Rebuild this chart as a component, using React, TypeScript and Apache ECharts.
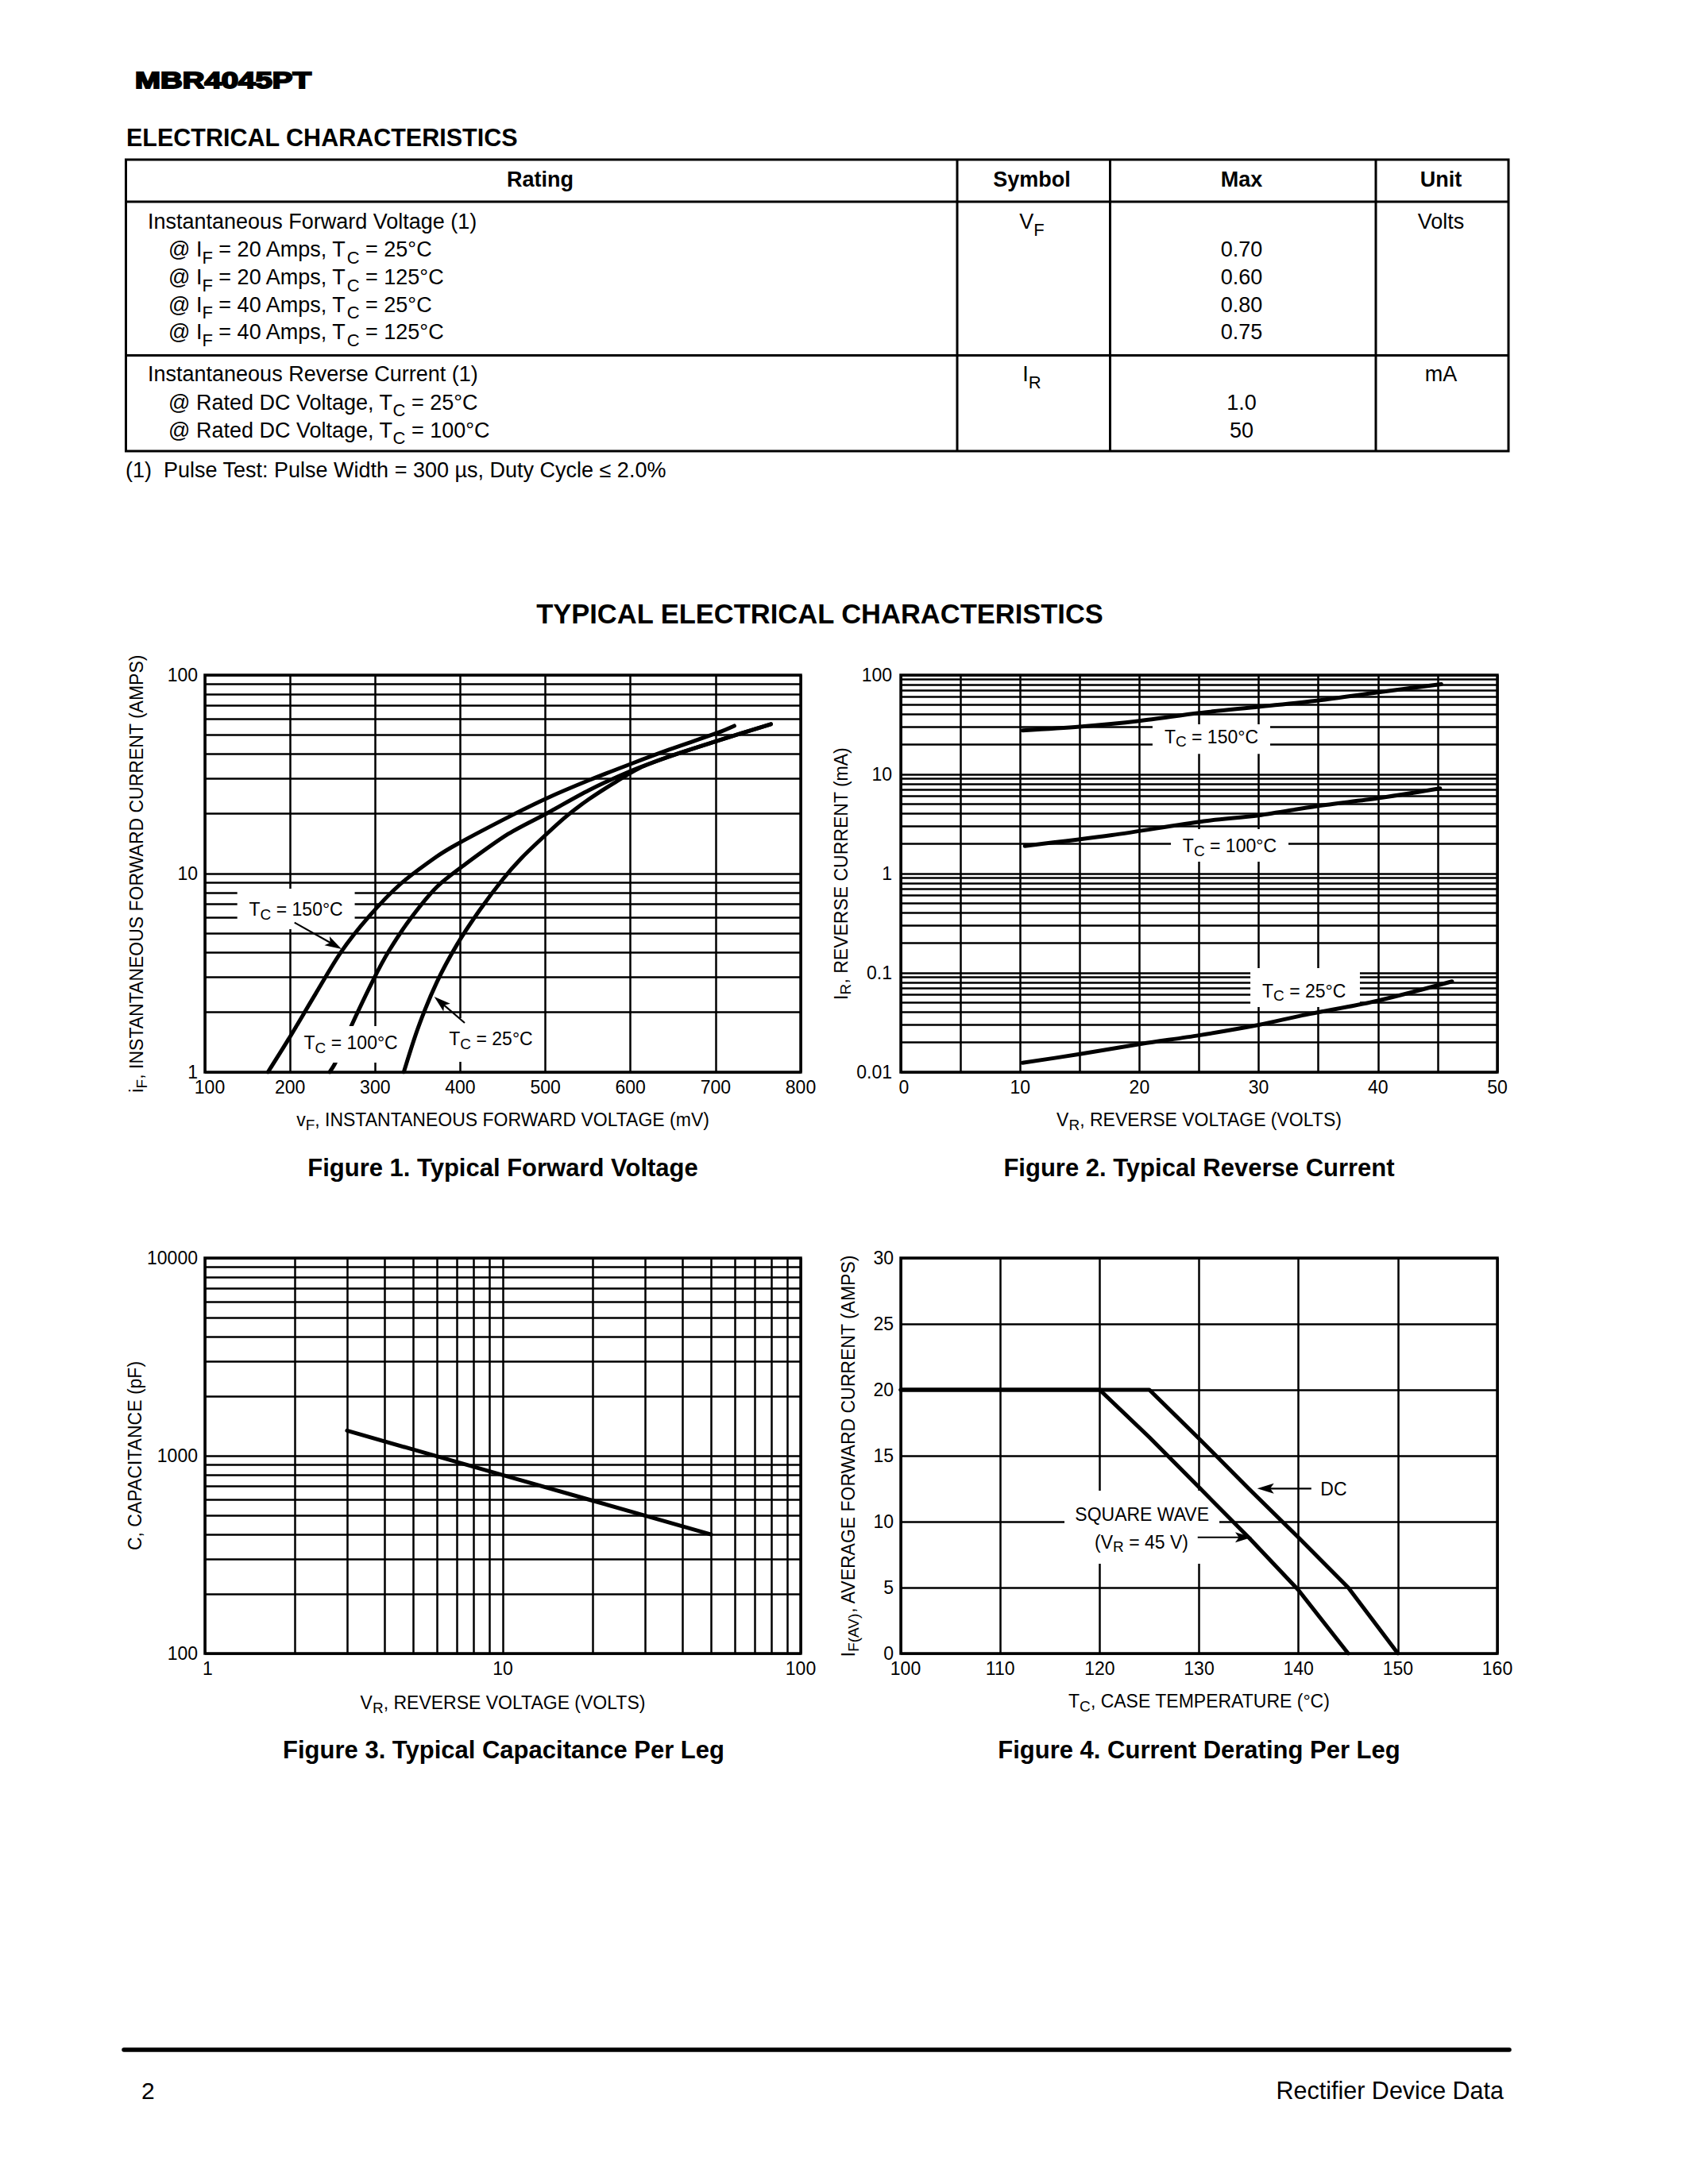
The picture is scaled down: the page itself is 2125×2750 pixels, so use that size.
import React, { useEffect, useRef } from "react";
import * as echarts from "echarts";

const NARROW = "'Liberation Sans Narrow', 'Arial Narrow', 'Liberation Sans', Arial, sans-serif";
const SANS = "'Liberation Sans', Arial, Helvetica, sans-serif";
const BLACK = "#000";
const CH = 23; // chart text size
const CHS = 19; // chart subscript size
const CHP = 12; // subscript drop (padding top, text moves by half)

// ---------------- Table data ----------------
const VF_IF_AMPS = ["20", "20", "40", "40"];
const VF_TC = ["25", "125", "25", "125"];
const VF_MAX = ["0.70", "0.60", "0.80", "0.75"];
const IR_TC = ["25", "100"];
const IR_MAX = ["1.0", "50"];

// ---------------- Figure 1: forward voltage (mV) vs current (A) ----------------
const F1_V_150 = [174, 198, 230, 260, 292, 329, 372, 397, 461, 502, 551, 602, 646, 703, 722];
const F1_I_150 = [1.0, 1.46, 2.48, 4.03, 6.03, 8.81, 12.16, 14.13, 19.7, 24.0, 29.5, 35.9, 42.2, 51.3, 55.5];
const F1_V_100 = [246.5, 253, 272, 298, 316.5, 341.5, 372.5, 403.6, 456.5, 501.6, 551.2, 602, 645.7, 703.4, 765];
const F1_I_100 = [1.0, 1.11, 1.71, 2.93, 4.1, 5.93, 8.57, 10.96, 15.85, 20.1, 26.3, 33.1, 38.9, 46.8, 56.6];
const F1_V_25 = [333.6, 350.8, 372.5, 395.9, 422.3, 450.3, 472.1, 501.6, 526, 551.2, 580, 610, 645.7, 703.4, 765];
const F1_I_25 = [1.0, 1.69, 2.84, 4.37, 6.5, 9.4, 12.0, 15.85, 19.65, 23.7, 28.5, 33.9, 38.9, 46.8, 56.6];

// ---------------- Figure 2: reverse voltage (V) vs reverse current (mA) ----------------
const F2_V_150 = [10.2, 15, 20, 25, 30, 35, 40, 45.3];
const F2_I_150 = [27.7, 30.2, 34.5, 41.5, 47.9, 55.5, 67, 81];
const F2_V_100 = [10.4, 17.7, 25.4, 30, 34.9, 40, 45.2];
const F2_I_100 = [1.9, 2.44, 3.37, 3.86, 4.79, 5.75, 7.2];
const F2_V_25 = [10.2, 15, 20.2, 25, 30, 33.7, 40, 46.2];
const F2_I_25 = [0.0124, 0.0152, 0.0193, 0.0235, 0.0299, 0.0374, 0.0525, 0.082];

// ---------------- Figure 3: capacitance ----------------
const F3_V = [3, 5, 10, 20, 30, 50];
const F3_C = [1340, 1075, 798, 593, 498, 400];

// ---------------- Figure 4: current derating ----------------
const F4_T_DC = [100, 125, 130, 135, 140, 145, 150];
const F4_I_DC = [20, 20, 16.3, 12.5, 8.8, 5.0, 0];
const F4_T_SQ = [100, 120, 125, 130, 135, 140, 145];
const F4_I_SQ = [20, 20, 16.4, 12.6, 8.8, 4.8, 0];

// ---------------- Grid line values (log paper) ----------------
const LOG_MINOR_1_100 = [2, 3, 4, 5, 6, 7, 8, 9, 20, 30, 40, 50, 60, 70, 80, 90];
const LOG_MINOR_001_100 = [
  0.02, 0.03, 0.04, 0.05, 0.06, 0.07, 0.08, 0.09,
  0.2, 0.3, 0.4, 0.5, 0.6, 0.7, 0.8, 0.9,
  2, 3, 4, 5, 6, 7, 8, 9,
  20, 30, 40, 50, 60, 70, 80, 90,
];
const LOG_MINOR_100_10000 = [200, 300, 400, 500, 600, 700, 800, 900, 2000, 3000, 4000, 5000, 6000, 7000, 8000, 9000];

const nb = (s: string) => s.replace(/^ +| +$/g, (m) => "\u00a0".repeat(m.length));
const rich = (parts: [string, string][]) => parts.map(([k, t]) => `{${k}|${nb(t)}}`).join("");
const rn = (a: string, s: string, b: string) => rich([["n", a], ["s", s], ["n", b]]);

const NAME_RICH = {
  n: { fontFamily: NARROW, fontSize: CH, color: BLACK },
  s: { fontFamily: NARROW, fontSize: CHS, color: BLACK, padding: [CHP, 0, 0, 0] },
};
const ANN_RICH = {
  n: { fontFamily: NARROW, fontSize: CH, fill: BLACK },
  s: { fontFamily: NARROW, fontSize: CHS, fill: BLACK, padding: [CHP, 0, 0, 0] },
};
const TABLE_RICH = {
  t: { fontFamily: SANS, fontSize: 27, fill: BLACK },
  u: { fontFamily: SANS, fontSize: 22, fill: BLACK, padding: [20, 0, 0, 0] },
};

const fmtNum = (v: number) => String(Number(Number(v).toPrecision(6)));
// the first (min) x label sits a little right of its tick, as on the original sheet
const firstShift = (min: number, shift: number, skip?: (v: number) => boolean) => ({
  formatter: (v: number) => {
    if (skip && skip(v)) return "";
    const s = fmtNum(v);
    return Math.abs(v - min) < 1e-9 ? `{f|${s}}` : s;
  },
  rich: { f: { fontFamily: NARROW, fontSize: CH, color: BLACK, padding: [0, 0, 0, shift] } },
});

const splitLine = { show: true, lineStyle: { color: BLACK, width: 2.5, type: "solid" } };
const nameTextStyle = {
  fontFamily: NARROW, fontSize: CH, color: BLACK, align: "center", verticalAlign: "middle", rich: NAME_RICH,
};
const axisCommon = {
  nameLocation: "middle",
  nameTextStyle,
  axisLine: { show: false },
  axisTick: { show: false },
  splitLine,
  silent: true,
};
const xLabel = { fontFamily: NARROW, fontSize: CH, color: BLACK, margin: 7 };
const yLabel = { fontFamily: NARROW, fontSize: CH, color: BLACK, margin: 9 };

const zip = (xs: number[], ys: number[]) => xs.map((x, i) => [x, ys[i]]);

const gridLines = (xs: number[], ys: number[]) => ({
  silent: true,
  z: 1,
  symbol: ["none", "none"],
  label: { show: false },
  lineStyle: { color: BLACK, width: 2.5, type: "solid" },
  emphasis: { disabled: true },
  animation: false,
  data: [...xs.map((v) => ({ xAxis: v })), ...ys.map((v) => ({ yAxis: v }))],
});

const lineSeries = (name: string, g: number, xs: number[], ys: number[], extra: any = {}) => ({
  name,
  type: "line",
  xAxisIndex: g,
  yAxisIndex: g,
  data: zip(xs, ys),
  symbol: "none",
  showSymbol: false,
  lineStyle: { color: BLACK, width: 5, cap: "round", join: "round" },
  itemStyle: { color: BLACK },
  z: 3,
  silent: true,
  animation: false,
  ...extra,
});

function buildOption(): any {
  const grids = [
    { left: 258, top: 850, width: 750, height: 500 },
    { left: 1134, top: 850, width: 751, height: 500 },
    { left: 258, top: 1584, width: 750, height: 498 },
    { left: 1134, top: 1584, width: 751, height: 498 },
  ].map((g) => ({
    ...g,
    show: true,
    borderColor: BLACK,
    borderWidth: 3.5,
    backgroundColor: "transparent",
    containLabel: false,
    outerBoundsMode: "none",
  }));

  const xAxis = [
    {
      ...axisCommon, gridIndex: 0, type: "value", min: 100, max: 800, interval: 100,
      name: rn("v", "F", ", INSTANTANEOUS FORWARD VOLTAGE (mV)"), nameGap: 60,
      axisLabel: { ...xLabel, ...firstShift(100, 12) },
    },
    {
      ...axisCommon, gridIndex: 1, type: "value", min: 0, max: 50, interval: 5,
      name: rn("V", "R", ", REVERSE VOLTAGE (VOLTS)"), nameGap: 60,
      axisLabel: { ...xLabel, ...firstShift(0, 8, (v) => v % 10 !== 0) },
    },
    {
      ...axisCommon, gridIndex: 2, type: "log", logBase: 10, min: 1, max: 100,
      name: rn("V", "R", ", REVERSE VOLTAGE (VOLTS)"), nameGap: 62,
      axisLabel: { ...xLabel, ...firstShift(1, 7) },
    },
    {
      ...axisCommon, gridIndex: 3, type: "value", min: 100, max: 160, interval: 10,
      name: rn("T", "C", ", CASE TEMPERATURE (°C)"), nameGap: 60,
      axisLabel: { ...xLabel, ...firstShift(100, 12) },
    },
  ];

  const yAxis = [
    {
      ...axisCommon, gridIndex: 0, type: "log", logBase: 10, min: 1, max: 100, nameRotate: 90,
      name: rn("i", "F", ", INSTANTANEOUS FORWARD CURRENT (AMPS)"), nameGap: 86,
      axisLabel: { ...yLabel, formatter: fmtNum },
    },
    {
      ...axisCommon, gridIndex: 1, type: "log", logBase: 10, min: 0.01, max: 100, nameRotate: 90,
      name: rn("I", "R", ", REVERSE CURRENT (mA)"), nameGap: 69,
      axisLabel: { ...yLabel, margin: 11, formatter: fmtNum },
    },
    {
      ...axisCommon, gridIndex: 2, type: "log", logBase: 10, min: 100, max: 10000, nameRotate: 90,
      name: rich([["n", "C, CAPACITANCE (pF)"]]), nameGap: 86,
      axisLabel: { ...yLabel, formatter: fmtNum },
    },
    {
      ...axisCommon, gridIndex: 3, type: "value", min: 0, max: 30, interval: 5, nameRotate: 90,
      name: rn("I", "F(AV)", ", AVERAGE FORWARD CURRENT (AMPS)"), nameGap: 66,
      axisLabel: yLabel,
    },
  ];

  const smooth = { smooth: 0.3 };
  const series = [
    lineSeries("TC = 150°C", 0, F1_V_150, F1_I_150, { ...smooth, markLine: gridLines([], LOG_MINOR_1_100) }),
    lineSeries("TC = 100°C", 0, F1_V_100, F1_I_100, smooth),
    lineSeries("TC = 25°C", 0, F1_V_25, F1_I_25, smooth),
    lineSeries("TC = 150°C", 1, F2_V_150, F2_I_150, { ...smooth, markLine: gridLines([], LOG_MINOR_001_100) }),
    lineSeries("TC = 100°C", 1, F2_V_100, F2_I_100, smooth),
    lineSeries("TC = 25°C", 1, F2_V_25, F2_I_25, smooth),
    lineSeries("Capacitance", 2, F3_V, F3_C, { markLine: gridLines(LOG_MINOR_1_100, LOG_MINOR_100_10000) }),
    lineSeries("DC", 3, F4_T_DC, F4_I_DC),
    lineSeries("Square wave", 3, F4_T_SQ, F4_I_SQ),
  ];

  return {
    animation: false,
    backgroundColor: "#fff",
    textStyle: { fontFamily: NARROW, color: BLACK },
    grid: grids,
    xAxis,
    yAxis,
    series,
  };
}

// ---------------- Static page graphics ----------------
function txt(x: number, y: number, text: string, opts: any = {}) {
  return {
    type: "text",
    x,
    y,
    z: 10,
    silent: true,
    style: {
      text,
      fontFamily: opts.fontFamily || SANS,
      fontSize: opts.fontSize || 27,
      fontWeight: opts.fontWeight || "normal",
      fill: BLACK,
      align: opts.align || "left",
      verticalAlign: "middle",
      rich: opts.rich,
    },
    scaleX: opts.scaleX || 1,
  };
}
const hline = (x1: number, x2: number, y: number, w = 3) => ({
  type: "line", z: 10, silent: true, shape: { x1, y1: y, x2, y2: y }, style: { stroke: BLACK, lineWidth: w },
});
const vline = (x: number, y1: number, y2: number, w = 3) => ({
  type: "line", z: 10, silent: true, shape: { x1: x, y1, x2: x, y2 }, style: { stroke: BLACK, lineWidth: w },
});

function staticGraphics(): any[] {
  const g: any[] = [];
  // Part number
  g.push({
    type: "text", x: 170, y: 101, z: 10, scaleX: 1.28, silent: true,
    style: {
      text: "MBR4045PT", fontFamily: SANS, fontSize: 30, fontWeight: "bold", fill: BLACK,
      stroke: BLACK, lineWidth: 2, align: "left", verticalAlign: "middle",
    },
  });
  g.push(txt(159, 172.5, "ELECTRICAL CHARACTERISTICS", { fontSize: 30.5, fontWeight: "bold" }));

  // Table frame
  const L = 158.5, R = 1899, T = 201, B = 568;
  g.push({ type: "rect", z: 10, silent: true, shape: { x: L, y: T, width: R - L, height: B - T }, style: { fill: "none", stroke: BLACK, lineWidth: 3 } });
  g.push(hline(L, R, 254));
  g.push(hline(L, R, 447.5));
  g.push(vline(1205, T, B));
  g.push(vline(1397.5, T, B));
  g.push(vline(1732, T, B));

  // Header
  g.push(txt(680, 226, "Rating", { fontWeight: "bold", align: "center" }));
  g.push(txt(1299, 226, "Symbol", { fontWeight: "bold", align: "center" }));
  g.push(txt(1563, 226, "Max", { fontWeight: "bold", align: "center" }));
  g.push(txt(1814, 226, "Unit", { fontWeight: "bold", align: "center" }));

  // Forward voltage section
  g.push(txt(186, 279, "Instantaneous Forward Voltage (1)"));
  g.push(txt(1299, 279, rich([["t", "V"], ["u", "F"]]), { align: "center", rich: TABLE_RICH }));
  g.push(txt(1814, 279, "Volts", { align: "center" }));
  const vfRows = [314, 349, 383.5, 418];
  VF_IF_AMPS.forEach((a, i) => {
    const y = vfRows[i];
    g.push(
      txt(212, y, rich([["t", "@ I"], ["u", "F"], ["t", ` = ${a} Amps, T`], ["u", "C"], ["t", ` = ${VF_TC[i]}°C`]]), {
        rich: TABLE_RICH,
      })
    );
    g.push(txt(1563, y, VF_MAX[i], { align: "center" }));
  });

  // Reverse current section
  g.push(txt(186, 471, "Instantaneous Reverse Current (1)"));
  g.push(txt(1299, 471, rich([["t", "I"], ["u", "R"]]), { align: "center", rich: TABLE_RICH }));
  g.push(txt(1814, 471, "mA", { align: "center" }));
  const irRows = [506.5, 541.5];
  IR_TC.forEach((tc, i) => {
    const y = irRows[i];
    g.push(txt(212, y, rich([["t", "@ Rated DC Voltage, T"], ["u", "C"], ["t", ` = ${tc}°C`]]), { rich: TABLE_RICH }));
    g.push(txt(1563, y, IR_MAX[i], { align: "center" }));
  });
  g.push(txt(158, 591.5, "(1)\u00a0\u00a0Pulse Test: Pulse Width = 300 \u00b5s, Duty Cycle \u2264 2.0%"));

  // Section heading
  g.push(txt(1032, 773, "TYPICAL ELECTRICAL CHARACTERISTICS", { fontSize: 34.5, fontWeight: "bold", align: "center" }));

  // Captions
  g.push(txt(633, 1470, "Figure 1. Typical Forward Voltage", { fontSize: 31, fontWeight: "bold", align: "center" }));
  g.push(txt(1509.5, 1470, "Figure 2. Typical Reverse Current", { fontSize: 31, fontWeight: "bold", align: "center" }));
  g.push(txt(634, 2203, "Figure 3. Typical Capacitance Per Leg", { fontSize: 31, fontWeight: "bold", align: "center" }));
  g.push(txt(1509.5, 2203, "Figure 4. Current Derating Per Leg", { fontSize: 31, fontWeight: "bold", align: "center" }));

  // Footer
  g.push({
    type: "line", z: 10, silent: true, shape: { x1: 156, y1: 2581, x2: 1900, y2: 2581 },
    style: { stroke: BLACK, lineWidth: 5.5, lineCap: "round" },
  });
  g.push(txt(178, 2632, "2", { fontSize: 30 }));
  g.push(txt(1893, 2632, "Rectifier Device Data", { fontSize: 30.5, align: "right" }));
  return g;
}

// ---------------- Annotations (in data coordinates) ----------------
type Ann = { g: number; at: [number, number]; text: string; box?: [number, number, number, number]; boxZ?: number };
const ANNOTATIONS: Ann[] = [
  { g: 0, at: [207, 6.6], text: rn("T", "C", " = 150°C"), box: [138, 8.4, 276, 5.25], boxZ: 4 },
  { g: 0, at: [271.4, 1.406], text: rn("T", "C", " = 100°C"), box: [210, 1.706, 333.3, 1.117], boxZ: 4 },
  { g: 0, at: [436, 1.472], text: rn("T", "C", " = 25°C"), box: [382, 1.87, 490, 1.127], boxZ: 4 },
  { g: 1, at: [26.03, 23.8], text: rn("T", "C", " = 150°C"), box: [21.1, 31.9, 30.96, 16.1], boxZ: 2 },
  { g: 1, at: [27.56, 1.905], text: rn("T", "C", " = 100°C"), box: [22.64, 2.8, 32.49, 1.318], boxZ: 2 },
  { g: 1, at: [33.8, 0.0655], text: rn("T", "C", " = 25°C"), box: [29.3, 0.1117, 38.48, 0.0453], boxZ: 2 },
  { g: 3, at: [143.54, 12.47], text: rich([["n", "DC"]]) },
  { g: 3, at: [124.26, 10.56], text: rich([["n", "SQUARE WAVE"]]), box: [116.46, 12.35, 132.04, 6.81], boxZ: 2 },
  { g: 3, at: [124.21, 8.45], text: rn("(V", "R", " = 45 V)") },
];
type Arrow = { g: number; from: [number, number]; to: [number, number] };
const ARROWS: Arrow[] = [
  { g: 0, from: [205.2, 5.67], to: [260.5, 4.17] },
  { g: 0, from: [405.2, 1.77], to: [369.4, 2.4] },
  { g: 3, from: [141.29, 12.51], to: [135.85, 12.51] },
  { g: 3, from: [129.86, 8.81], to: [135.31, 8.81] },
];

function annotationGraphics(px: (g: number, x: number, y: number) => number[]): any[] {
  const out: any[] = [];
  ANNOTATIONS.forEach((a) => {
    if (a.box) {
      const p1 = px(a.g, a.box[0], a.box[1]);
      const p2 = px(a.g, a.box[2], a.box[3]);
      out.push({
        type: "rect", z: a.boxZ || 4, silent: true,
        shape: { x: Math.min(p1[0], p2[0]), y: Math.min(p1[1], p2[1]), width: Math.abs(p2[0] - p1[0]), height: Math.abs(p2[1] - p1[1]) },
        style: { fill: "#fff", stroke: "none" },
      });
    }
    const c = px(a.g, a.at[0], a.at[1]);
    out.push({
      type: "text", x: c[0], y: c[1], z: 6, silent: true,
      style: { text: a.text, rich: ANN_RICH, fontFamily: NARROW, fontSize: CH, fill: BLACK, align: "center", verticalAlign: "middle" },
    });
  });
  ARROWS.forEach((ar) => {
    const a = px(ar.g, ar.from[0], ar.from[1]);
    const b = px(ar.g, ar.to[0], ar.to[1]);
    const dx = b[0] - a[0], dy = b[1] - a[1];
    const len = Math.hypot(dx, dy) || 1;
    const ux = dx / len, uy = dy / len;
    const H = 21, W = 6.5;
    const bx = b[0] - ux * H, by = b[1] - uy * H;
    out.push({
      type: "line", z: 5, silent: true,
      shape: { x1: a[0], y1: a[1], x2: b[0] - ux * H * 0.7, y2: b[1] - uy * H * 0.7 },
      style: { stroke: BLACK, lineWidth: 2.2 },
    });
    out.push({
      type: "polygon", z: 5, silent: true,
      shape: {
        points: [
          [b[0], b[1]],
          [bx - uy * W, by + ux * W],
          [b[0] - ux * H * 0.78, b[1] - uy * H * 0.78],
          [bx + uy * W, by - ux * W],
        ],
      },
      style: { fill: BLACK, stroke: "none" },
    });
  });
  return out;
}

export default function App() {
  const ref = useRef<HTMLDivElement>(null);
  useEffect(() => {
    if (!ref.current) return;
    const chart = echarts.init(ref.current, undefined, { renderer: "svg" });
    chart.setOption(buildOption());
    const px = (g: number, x: number, y: number) => chart.convertToPixel({ gridIndex: g } as any, [x, y]) as number[];
    chart.setOption({ graphic: [...staticGraphics(), ...annotationGraphics(px)] });
    return () => chart.dispose();
  }, []);
  return (
    <div
      ref={ref}
      style={{ position: "absolute", left: 0, top: 0, width: 2125, height: 2750, background: "#fff" }}
    />
  );
}
